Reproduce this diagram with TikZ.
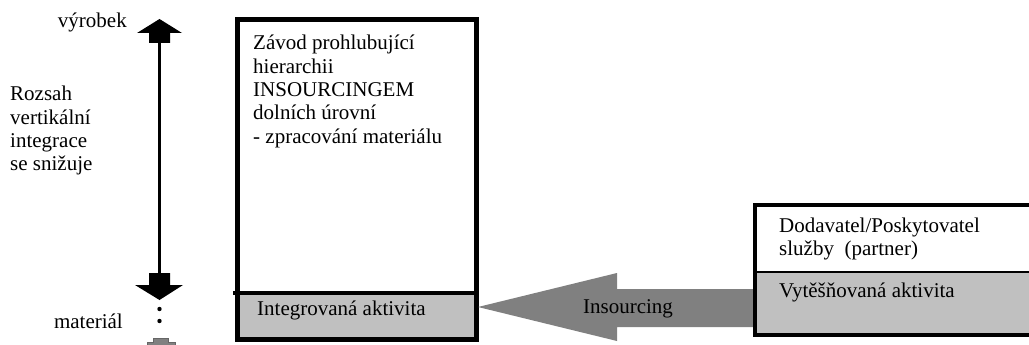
\documentclass[tikz,border=0pt]{standalone}
\usepackage{fontspec}
\setmainfont{Liberation Serif}
\definecolor{lightgrey}{HTML}{C0C0C0}
\definecolor{midgrey}{HTML}{808080}
\begin{document}
\begin{tikzpicture}[x=1pt,y=-1pt,
  txt/.style={inner sep=0pt,anchor=base west,font=\fontsize{21pt}{23.3pt}\selectfont},
  txtr/.style={inner sep=0pt,anchor=base east,font=\fontsize{21pt}{23.3pt}\selectfont},
  heavy/.style={draw=black,line width=5pt},
  medium/.style={draw=black,line width=3.5pt}]
\useasboundingbox (0,0) rectangle (1029,345);
\fill[white] (0,0) rectangle (1029,345);

% left vertical double arrow
\fill[black] (159.5,19) -- (182,33) -- (170,33) -- (170,43) -- (149,43) -- (149,33) -- (137,33) -- cycle;
\draw[line width=3pt] (159.5,43) -- (159.5,274);
\fill[black] (149,273) -- (170,273) -- (170,285) -- (183,285) -- (159.5,300) -- (135,285) -- (149,285) -- cycle;
\fill[black] (159.5,309) circle (2.2);
\fill[black] (159.5,321) circle (2.2);
\filldraw[fill=midgrey,draw=black!60,line width=0.8pt] (153,338) -- (168,338) -- (168,342) -- (175,342) -- (175,350) -- (147,350) -- (147,342) -- (153,342) -- cycle;

\node[txtr] (vyrobek) at (127,28) {výrobek};
\node[txtr] (material) at (123,328) {materiál};
\node[txt] (r1) at (10,101) {Rozsah};
\node[txt] (r2) at (10,124.3) {vertikální};
\node[txt] (r3) at (10,147.6) {integrace};
\node[txt] (r4) at (10,170.9) {se snižuje};

% main box
\fill[lightgrey] (240,292) rectangle (474,337);
\draw[heavy] (237.5,19.5) rectangle (476,339.5);
\draw[black,line width=4pt] (233,292.5) -- (476,292.5);
\node[txt] (z1) at (253,50) {Závod prohlubující};
\node[txt] (z2) at (253,73.3) {hierarchii};
\node[txt] (z3) at (253,96.6) {INSOURCINGEM};
\node[txt] (z4) at (253,119.9) {dolních úrovní};
\node[txt] (z5) at (253,143.2) {- zpracování materiálu};
\node[txt] (integ) at (257,315) {Integrovaná aktivita};

% insourcing arrow
\fill[midgrey] (478,307) -- (617,273) -- (617,289) -- (757,289) -- (757,327) -- (617,327) -- (617,341) -- cycle;
\node[txt,anchor=base] (ins) at (628,313) {Insourcing};

% right box
\fill[lightgrey] (755,272) rectangle (1035,335);
\draw[medium] (755,205) rectangle (1035,335);
\draw[black,line width=2.5pt] (755,272) -- (1035,272);
\node[txt] (d1) at (779,232) {Dodavatel/Poskytovatel};
\node[txt] (d2) at (779,255) {služby\ \ (partner)};
\node[txt] (vyt) at (779,297) {Vytěšňovaná aktivita};
\end{tikzpicture}
\end{document}
